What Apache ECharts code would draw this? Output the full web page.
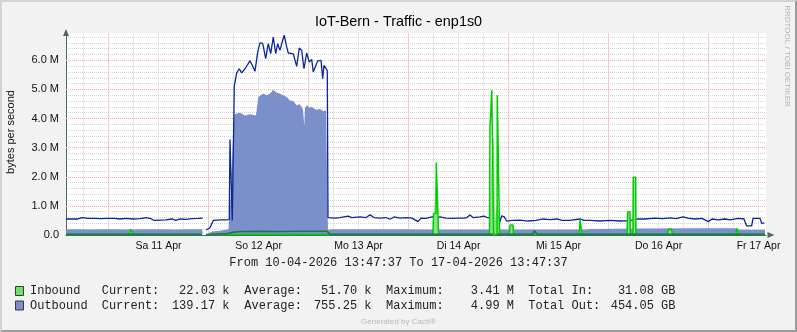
<!DOCTYPE html>
<html><head><meta charset="utf-8">
<script src="https://cdn.jsdelivr.net/npm/echarts@6/dist/echarts.min.js"></script>
<style>
html,body{margin:0;padding:0;background:#f2f2f2;}
#wrap{position:relative;width:797px;height:332px;overflow:hidden;}
#chart{width:797px;height:332px;}
#frame{position:absolute;left:0;top:0;width:797px;height:332px;box-sizing:border-box;border-top:2px solid #d4d4d4;border-left:2px solid #d4d4d4;border-right:2px solid #9c9c9c;border-bottom:2px solid #9c9c9c;pointer-events:none;}
</style></head>
<body><div id="wrap"><div id="chart"></div><div id="frame"></div></div>
<script>
// ---- axis range: hours since 10-04-2026 00:00 ----
const tStart = 13.7936;   // 10-04-2026 13:47:37
const tEnd = 181.7936;    // 17-04-2026 13:47:37
const yMax = 6.92;        // M bytes/s
const labelHours = [36, 60, 84, 108, 132, 156, 180];
const dayLabels = ['Sa 11 Apr', 'So 12 Apr', 'Mo 13 Apr', 'Di 14 Apr', 'Mi 15 Apr', 'Do 16 Apr', 'Fr 17 Apr'];

// ---- Outbound maximum (navy line), M bytes/s ----
const outMaxT = [13.79,15.23,16.67,17.15,17.63,19.07,20.75,21.95,23.87,25.55,26.75,28.19,29.87,31.55,32.99,33.47,34.19,34.91,36.35,37.79,39.23,40.19,41.15,42.59,44.03,45.47,46.60,46.91,
47.39,48.35,49.14,50.75,51.95,52.98,53.15,53.63,53.70,53.94,54.18,54.76,55.38,55.96,56.75,57.95,58.50,59.15,59.80,60.35,61.00,61.72,62.34,62.92,63.54,64.12,64.60,65.15,65.80,66.18,66.76,67.14,68.34,69.16,69.78,70.36,70.91,71.56,72.18,72.76,73.14,73.55,74.20,74.99,75.40,75.71,76.19,76.50,
76.67,78.35,79.55,81.47,82.43,84.35,85.79,86.75,87.71,89.15,90.59,91.55,92.51,93.95,95.39,96.83,98.27,98.99,100.19,101.87,102.59,103.55,104.99,106.43,107.87,109.31,110.03,110.75,111.47,113.15,114.11,114.83,115.79,116.03,116.75,117.16,117.71,118.36,118.98,119.56,120.83,122.75,124.67,126.59,128.27,129.95,131.63,132.83,134.75,137.15,138.11,139.55,141.95,144.35,146.75,149.15,151.07,152.75,155.15,156.83,158.75,160.19,161.87,163.07,164.75,166.43,167.94,168.83,170.27,171.95,173.15,175.14,176.51,177.16,178.36,178.67,180.35,180.76,181.38];
const outMaxV = [0.55,0.55,0.55,0.50,0.60,0.57,0.57,0.56,0.57,0.57,0.55,0.57,0.55,0.56,0.60,0.65,0.56,0.50,0.51,0.52,0.55,0.50,0.55,0.54,0.56,0.57,0.58,null,
0.17,0.25,0.50,0.52,0.52,0.53,3.28,3.28,0.50,0.55,5.11,5.57,5.71,5.57,5.71,5.98,5.83,5.62,6.28,6.60,6.58,6.06,6.57,6.23,6.80,6.23,6.57,6.34,6.69,6.86,6.46,6.25,6.22,5.79,6.42,6.34,5.71,6.25,5.94,6.03,5.60,5.58,5.98,6.00,5.37,5.83,5.72,5.65,
0.60,0.58,0.60,0.65,0.60,0.62,0.60,0.69,0.60,0.58,0.60,0.54,0.62,0.58,0.60,0.58,0.46,0.58,0.57,0.63,0.60,0.62,0.58,0.57,0.58,0.58,0.60,0.69,0.60,0.62,0.65,0.60,0.60,0.23,0.25,0.32,0.35,0.66,0.62,0.48,0.50,0.51,0.48,0.50,0.55,0.53,0.55,0.50,0.50,0.55,0.50,0.50,0.48,0.50,0.48,0.49,0.55,0.55,0.58,0.56,0.59,0.56,0.62,0.58,0.55,0.57,0.46,0.55,0.52,0.55,0.52,0.57,0.55,0.31,0.31,0.57,0.57,0.40,0.42];

// ---- Outbound average (blue area) ----
const outAvgT = [13.79,17.15,19.55,21.95,25.55,29.15,32.75,36.35,39.95,43.55,46.43,46.67,46.91,47.56,48.83,50.75,52.79,52.98,53.39,53.87,54.23,55.55,56.75,57.95,59.39,59.80,59.94,61.14,61.96,62.75,63.54,64.19,65.15,66.76,67.55,68.34,69.16,69.78,70.36,70.67,70.98,71.15,71.56,72.11,72.76,73.14,73.79,74.75,75.54,76.19,76.50,76.67,77.63,79.07,79.55,80.03,86.75,93.95,101.15,108.35,115.55,115.79,116.27,116.39,117.23,117.95,127.55,138.59,139.55,151.55,165.95,174.35,175.07,177.95,181.55];
const outAvgV = [0.20,0.20,0.19,0.20,0.20,0.19,0.20,0.20,0.19,0.20,0.20,0.05,null,0.03,0.12,0.15,0.20,0.25,1.50,3.30,4.15,4.20,4.10,4.15,4.10,4.10,4.74,4.86,4.80,4.86,4.99,4.90,4.85,4.74,4.62,4.60,4.45,4.50,4.40,4.30,3.75,4.35,4.46,4.38,4.40,4.34,4.30,4.33,4.25,4.28,4.25,0.17,0.20,0.20,0.15,0.20,0.20,0.20,0.19,0.19,0.19,0.10,0.10,null,0.10,0.19,0.19,0.19,0.21,0.22,0.23,0.23,0.19,0.18,0.18];

// ---- Inbound average (light green area) ----
const inAvgT = [13.79,29.03,29.27,29.75,29.99,46.43,46.91,47.39,101.87,102.11,102.71,103.07,103.19,115.43,115.67,116.03,116.51,116.75,117.35,117.71,117.85,120.23,120.35,121.07,121.19,137.03,137.15,137.56,137.63,148.43,148.60,149.15,149.22,149.87,149.94,150.52,150.59,158.15,158.39,159.11,159.35,174.59,174.76,175.14,175.31,181.55];
const inAvgV = [0.02,0.02,0.15,0.15,0.02,0.02,null,0.02,0.02,0.60,2.45,2.45,0.02,0.02,1.50,3.00,3.41,0.50,1.20,0.60,0.02,0.02,0.30,0.30,0.02,0.02,0.50,0.50,0.02,0.02,0.75,0.75,0.02,0.02,1.90,1.90,0.02,0.02,0.15,0.15,0.02,0.02,0.20,0.20,0.02,0.02];

// ---- Inbound maximum (bright green line) ----
const inMaxT = [13.79,29.03,29.27,29.75,29.99,46.43,46.91,47.39,101.87,101.99,102.59,102.66,103.14,103.21,115.43,115.55,115.91,115.98,116.34,116.41,117.25,117.30,117.78,117.85,120.23,120.35,121.07,121.19,137.03,137.15,137.56,137.63,148.43,148.60,149.15,149.22,149.87,149.94,150.52,150.59,158.15,158.39,159.11,159.35,174.59,174.76,175.14,175.31,181.55];
const inMaxV = [0.02,0.02,0.20,0.20,0.02,0.02,null,0.02,0.02,0.74,0.74,2.49,2.49,0.02,0.02,3.69,3.69,4.97,4.97,0.02,0.02,4.80,4.80,0.02,0.02,0.34,0.34,0.02,0.02,0.55,0.55,0.02,0.02,0.80,0.80,0.02,0.02,1.98,1.98,0.02,0.02,0.20,0.20,0.02,0.02,0.23,0.23,0.02,0.02];

// ---- Inbound baseline (dark green line) ----
const inBaseT = [13.79,46.43,46.91,47.39,52.67,54.11,55.55,60.35,65.15,69.95,74.75,76.43,77.15,116.27,116.39,117.23,125.80,126.20,126.60,126.90,181.55];
const inBaseV = [0.02,0.02,null,0.01,0.05,0.10,0.12,0.13,0.12,0.13,0.13,0.13,0.02,0.02,null,0.02,0.02,0.15,0.15,0.02,0.02];

// ---- legend texts ----
const legendNames = ['Inbound', 'Outbound'];
const curVals = ['22.03 k', '139.17 k'];
const avgVals = ['51.70 k', '755.25 k'];
const maxVals = ['3.41 M', '4.99 M'];
const totLabels = ['Total In:', 'Total Out:'];
const totVals = ['31.08 GB', '454.05 GB'];
const legendColors = ['#6fe06f', '#7b8fca'];
const periodText = 'From 10-04-2026 13:47:37 To 17-04-2026 13:47:37';

function pairs(t, v) { return t.map((x, i) => [x, v[i] === null ? '-' : v[i]]); }

const SANS = '"Liberation Sans", Arial, sans-serif';
const MONO = '"Liberation Mono", "Courier New", monospace';
const GRID_RED = '#f0b0b0';
const GRID_GRAY = '#d4d4d4';

const graphic = [];
function txt(x, y, text, font, fill, align, rot) {
  graphic.push({ type: 'text', x: x, y: y, rotation: rot || 0, silent: true,
    style: { text: text, font: font, fill: fill, align: align, verticalAlign: 'middle', textAlign: align, textVerticalAlign: 'middle' } });
}
txt(398.5, 22.5, 'IoT-Bern - Traffic - enp1s0', '14.4px ' + SANS, '#000', 'center');
txt(11, 132, 'bytes per second', '11px ' + SANS, '#111', 'center', Math.PI / 2);
txt(787, 56, 'RRDTOOL / TOBI OETIKER', '8px ' + SANS, '#b4b4b4', 'center', -Math.PI / 2);
txt(398.5, 262.5, periodText, '12px ' + MONO, '#222', 'center');
txt(398.5, 321.5, 'Generated by Cacti®', '8px ' + SANS, '#b8b8b8', 'center');
const rowY = [291, 305.5];
for (let r = 0; r < 2; r++) {
  const y = rowY[r];
  graphic.push({ type: 'rect', silent: true, shape: { x: 15.5, y: y - 4.5, width: 8, height: 9 },
    style: { fill: legendColors[r], stroke: '#3a3a3a', lineWidth: 1 } });
  txt(30, y, legendNames[r], '12px ' + MONO, '#222', 'left');
  txt(101.7, y, 'Current:', '12px ' + MONO, '#222', 'left');
  txt(229.5, y, curVals[r], '12px ' + MONO, '#222', 'right');
  txt(244.3, y, 'Average:', '12px ' + MONO, '#222', 'left');
  txt(371.5, y, avgVals[r], '12px ' + MONO, '#222', 'right');
  txt(386, y, 'Maximum:', '12px ' + MONO, '#222', 'left');
  txt(514, y, maxVals[r], '12px ' + MONO, '#222', 'right');
  txt(528.3, y, totLabels[r], '12px ' + MONO, '#222', 'left');
  txt(675.5, y, totVals[r], '12px ' + MONO, '#222', 'right');
}

const hidden = { axisLine: { show: false }, axisTick: { show: false }, axisLabel: { show: false } };
const chart = echarts.init(document.getElementById('chart'), null, { renderer: 'canvas' });
chart.setOption({
  backgroundColor: '#f2f2f2',
  animation: false,
  grid: { left: 66, right: 31, top: 33.5, bottom: 97, show: true, backgroundColor: '#ffffff', borderWidth: 0, containLabel: false, outerBoundsMode: 'none' },
  xAxis: [{
    type: 'value', min: tStart, max: tEnd, minInterval: 6, maxInterval: 6, splitNumber: 28,
    axisLine: { show: true, onZero: false, lineStyle: { color: '#4d6b5c', width: 1 }, symbol: ['none', 'triangle'], symbolSize: [6, 7], symbolOffset: [0, 5] },
    axisTick: { show: false },
    axisLabel: { show: true, margin: 6, fontFamily: SANS, fontSize: 10.5, color: '#111', showMinLabel: false, showMaxLabel: false,
      formatter: function (v) { const r = Math.round(v); if (Math.abs(v - r) > 1e-6) return ''; const i = labelHours.indexOf(r); return i >= 0 ? dayLabels[i] : ''; } },
    splitLine: { show: true, showMinLine: false, showMaxLine: false, lineStyle: { color: GRID_GRAY, type: [1, 1], width: 1 } }
  }, Object.assign({
    type: 'value', min: tStart, max: tEnd, minInterval: 24, maxInterval: 24, splitNumber: 7, position: 'top', z: 1,
    splitLine: { show: true, showMinLine: false, showMaxLine: false, lineStyle: { color: GRID_RED, type: [1, 1], width: 1 } }
  }, hidden)],
  yAxis: [{
    type: 'value', min: 0, max: yMax, interval: 0.2,
    axisLine: { show: true, lineStyle: { color: '#4d6b5c', width: 1 }, symbol: ['none', 'triangle'], symbolSize: [6, 7], symbolOffset: [0, 1] },
    axisTick: { show: false },
    axisLabel: { show: true, margin: 7, fontFamily: SANS, fontSize: 11, color: '#111', showMaxLabel: false,
      formatter: function (v) { const r = Math.round(v); if (Math.abs(v - r) > 1e-6) return ''; return r === 0 ? '0.0' : r.toFixed(1) + ' M'; } },
    splitLine: { show: true, showMinLine: false, showMaxLine: false, lineStyle: { color: GRID_GRAY, type: [1, 1], width: 1 } }
  }, Object.assign({
    type: 'value', min: 0, max: yMax, interval: 1, position: 'right', z: 1,
    splitLine: { show: true, showMinLine: false, showMaxLine: false, lineStyle: { color: GRID_RED, type: [1, 1], width: 1 } }
  }, hidden)],
  series: [
    { name: 'Outbound avg', type: 'line', data: pairs(outAvgT, outAvgV), showSymbol: false, silent: true, color: '#7b8fca',
      lineStyle: { width: 0 }, areaStyle: { color: '#7b8fca', opacity: 1 }, z: 2 },
    { name: 'Outbound max', type: 'line', data: pairs(outMaxT, outMaxV), showSymbol: false, silent: true, color: '#0a2896',
      lineStyle: { width: 1.3, color: '#0a2896' }, z: 3 },
    { name: 'Inbound avg', type: 'line', data: pairs(inAvgT, inAvgV), showSymbol: false, silent: true, color: '#86e386',
      lineStyle: { width: 0 }, areaStyle: { color: '#86e386', opacity: 1 }, z: 4 },
    { name: 'Inbound max', type: 'line', data: pairs(inMaxT, inMaxV), showSymbol: false, silent: true, color: '#00cc00',
      lineStyle: { width: 1.5, color: '#00cc00' }, z: 5 },
    { name: 'Inbound base', type: 'line', data: pairs(inBaseT, inBaseV), showSymbol: false, silent: true, color: '#167a46',
      lineStyle: { width: 1.6, color: '#167a46' }, z: 6 }
  ],
  graphic: graphic
});
</script>
</body></html>
